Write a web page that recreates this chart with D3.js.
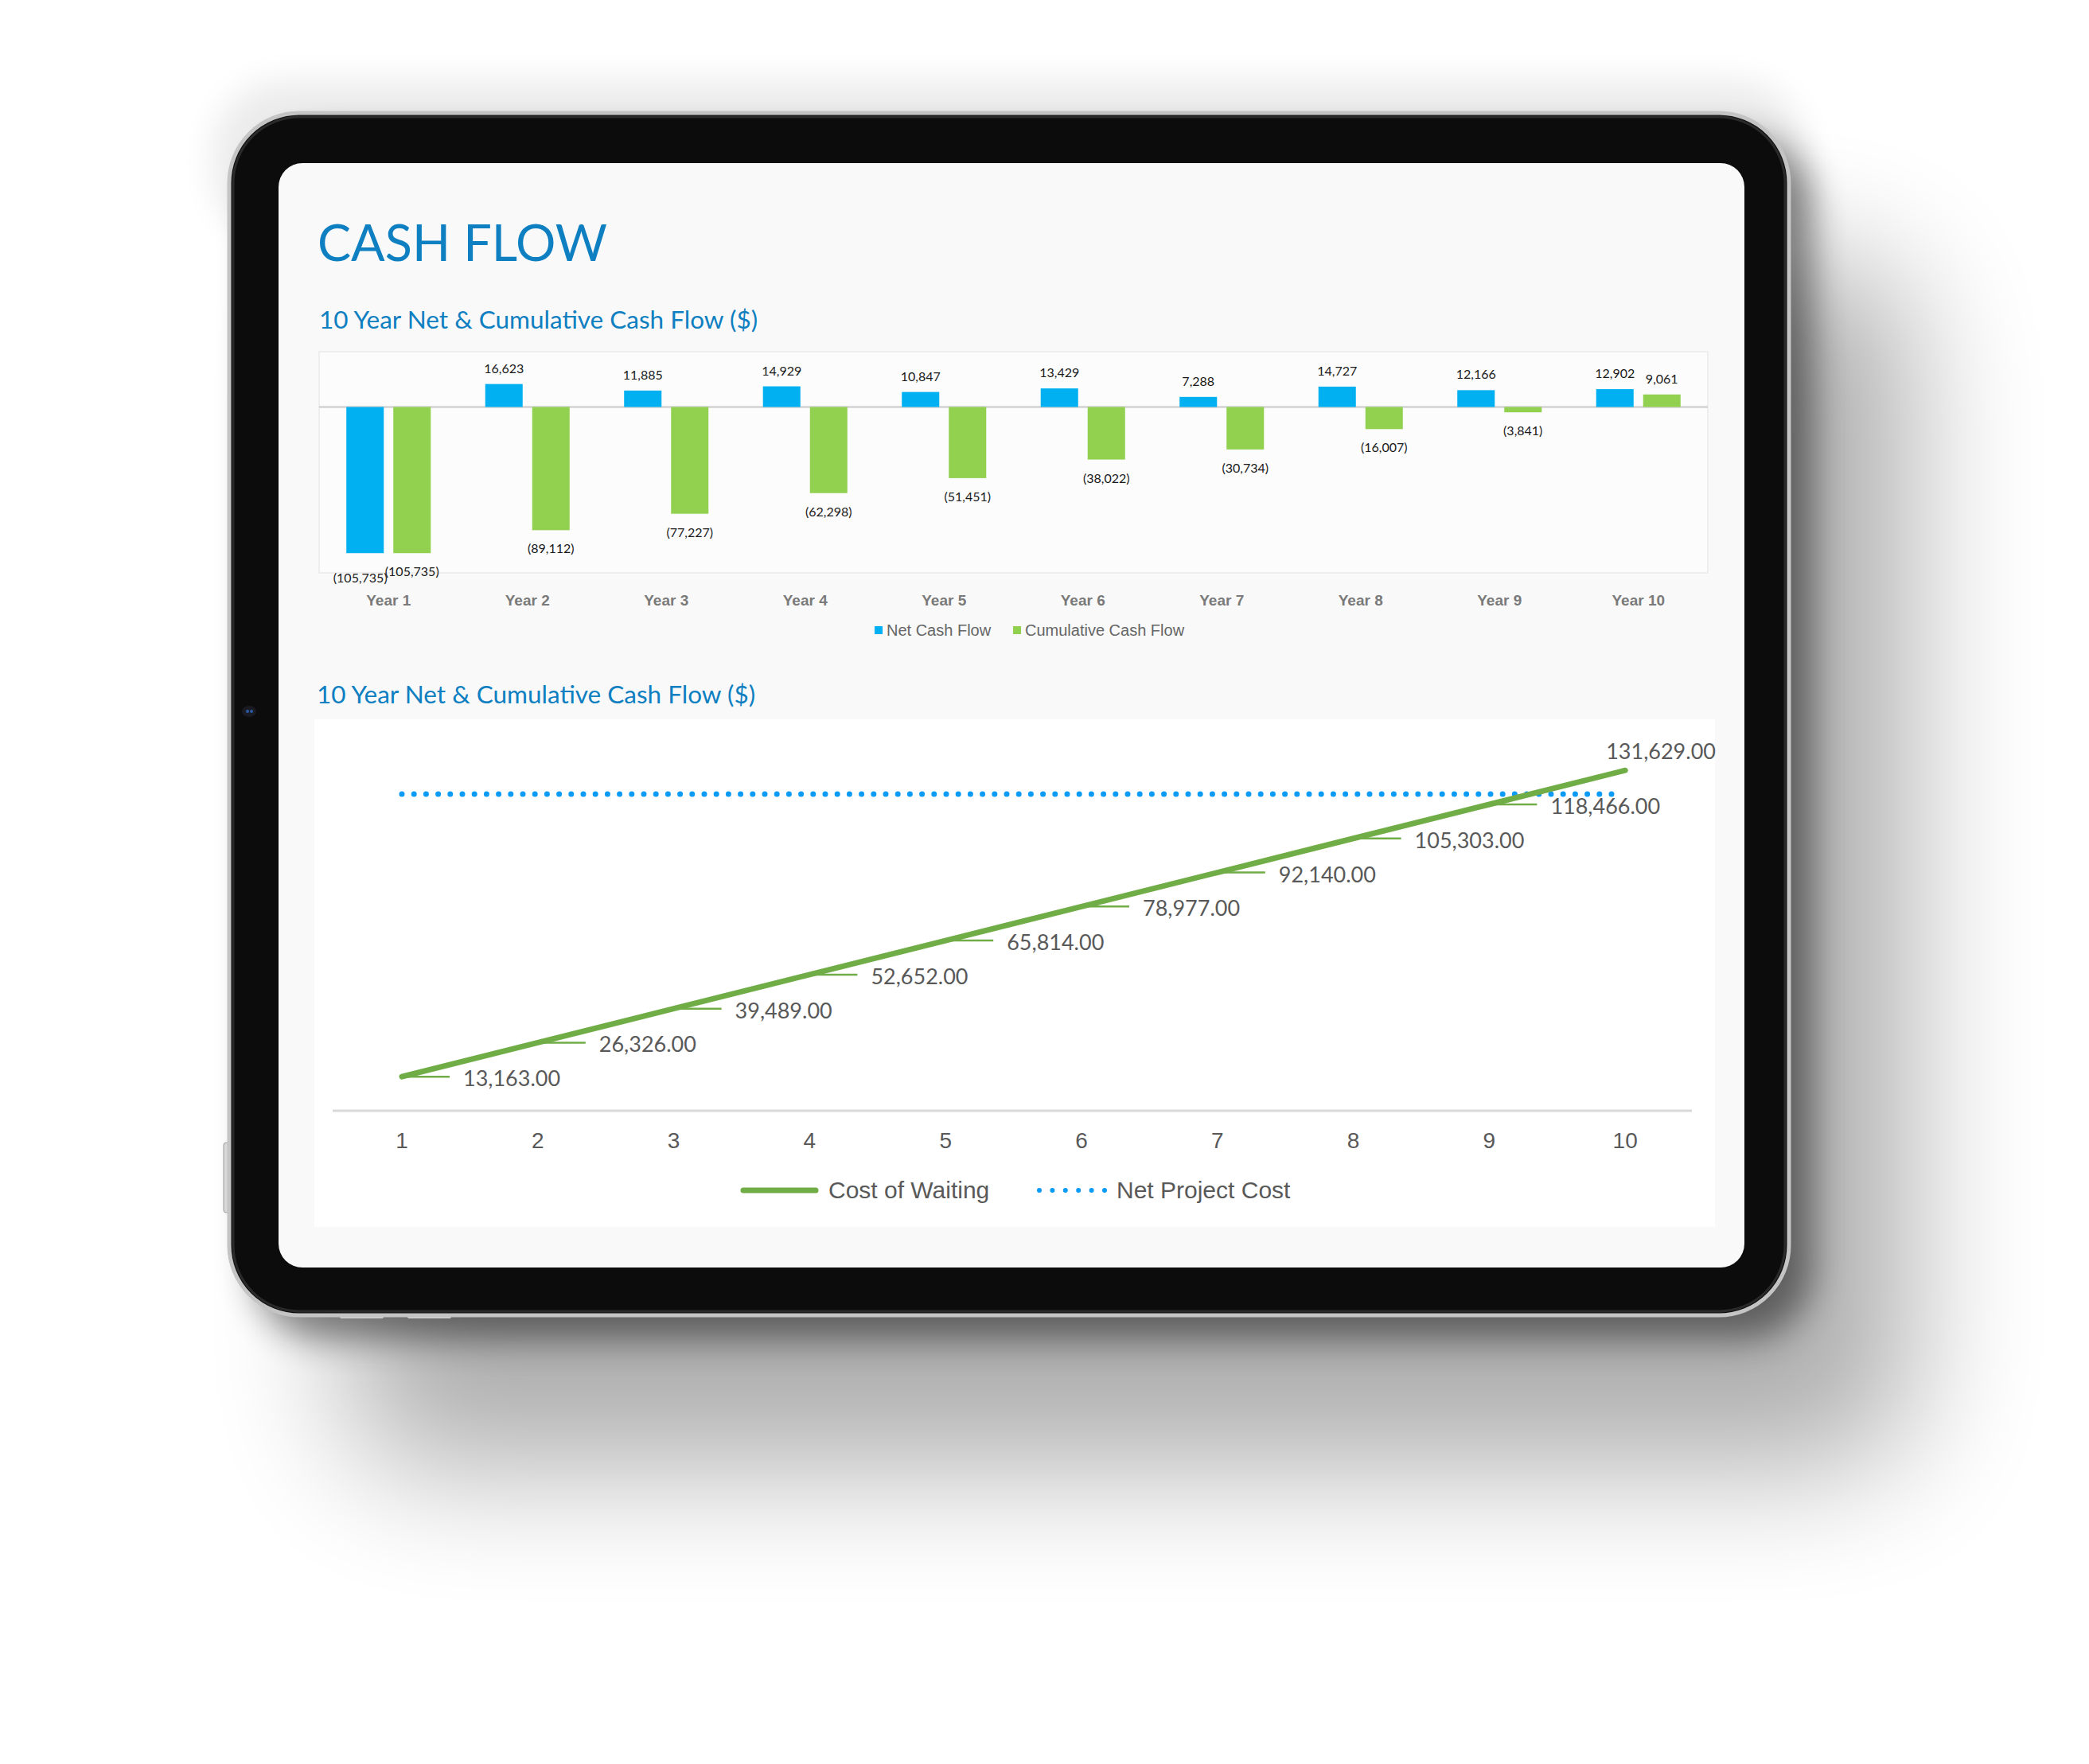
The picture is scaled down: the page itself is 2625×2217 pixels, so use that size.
<!DOCTYPE html>
<html>
<head>
<meta charset="utf-8">
<script src="https://cdn.jsdelivr.net/npm/d3@7"></script>
<style>
  html, body { margin: 0; padding: 0; background: #ffffff; }
  svg { display: block; }
</style>
</head>
<body>
<svg id="chart" width="2625" height="2217"></svg>
<script>
// ---------------- DATA ----------------
const years = ["Year 1", "Year 2", "Year 3", "Year 4", "Year 5", "Year 6", "Year 7", "Year 8", "Year 9", "Year 10"];
const netCashFlow = [-105735, 16623, 11885, 14929, 10847, 13429, 7288, 14727, 12166, 12902];
const cumulativeCashFlow = [-105735, -89112, -77227, -62298, -51451, -38022, -30734, -16007, -3841, 9061];
const barSeries = ["Net Cash Flow", "Cumulative Cash Flow"];

const periods = [1, 2, 3, 4, 5, 6, 7, 8, 9, 10];
const costOfWaiting = [13163, 26326, 39489, 52652, 65814, 78977, 92140, 105303, 118466, 131629];
const netProjectCost = 122500;
const lineSeries = ["Cost of Waiting", "Net Project Cost"];

const pageTitle = "CASH FLOW";
const chartTitle1 = "10 Year Net & Cumulative Cash Flow ($)";
const chartTitle2 = "10 Year Net & Cumulative Cash Flow ($)";

// ---------------- STYLE ----------------
const BLUE = "#00B0F0", GREEN = "#92D050", TITLE = "#0E7FC1";
const LINE_GREEN = "#70AD47", DOT_BLUE = "#0A9BF7";
const SANS = "'Liberation Sans', Arial, sans-serif";
const CAL = "Lato, 'Open Sans', sans-serif";

const svg = d3.select("#chart");
const defs = svg.append("defs");

// shadows
const f1 = defs.append("filter").attr("id", "farShadow").attr("x", "-30%").attr("y", "-30%").attr("width", "170%").attr("height", "170%");
f1.append("feGaussianBlur").attr("stdDeviation", 85);
const f2 = defs.append("filter").attr("id", "nearShadow").attr("x", "-20%").attr("y", "-20%").attr("width", "140%").attr("height", "140%");
f2.append("feGaussianBlur").attr("stdDeviation", 22);

const T = { x: 288, y: 142, w: 1960, h: 1511, r: 88 };
svg.append("rect").attr("x", T.x + 150).attr("y", T.y + 190).attr("width", T.w).attr("height", T.h)
  .attr("rx", T.r).attr("fill", "#000").attr("opacity", 0.32).attr("filter", "url(#farShadow)");
svg.append("rect").attr("x", T.x + 30).attr("y", T.y + 30).attr("width", T.w).attr("height", T.h)
  .attr("rx", T.r).attr("fill", "#000").attr("opacity", 0.45).attr("filter", "url(#nearShadow)");
svg.append("rect").attr("x", T.x - 20).attr("y", T.y - 40).attr("width", T.w + 40).attr("height", 200)
  .attr("rx", T.r).attr("fill", "#000").attr("opacity", 0.08).attr("filter", "url(#nearShadow)");

// side buttons
svg.append("rect").attr("x", T.x - 7).attr("y", 1436).attr("width", 9).attr("height", 88).attr("rx", 3).attr("fill", "#d8d8d8").attr("stroke", "#9a9a9a");
svg.append("rect").attr("x", 427).attr("y", T.y + T.h - 2).attr("width", 55).attr("height", 6).attr("rx", 2).attr("fill", "#d0d0d0");
svg.append("rect").attr("x", 512).attr("y", T.y + T.h - 2).attr("width", 55).attr("height", 6).attr("rx", 2).attr("fill", "#d0d0d0");

// body
svg.append("rect").attr("x", T.x).attr("y", T.y).attr("width", T.w).attr("height", T.h)
  .attr("rx", T.r).attr("fill", "#0c0c0c").attr("stroke", "#c4c4c4").attr("stroke-width", 5);
svg.append("rect").attr("x", T.x + 5).attr("y", T.y + 5).attr("width", T.w - 10).attr("height", T.h - 10)
  .attr("rx", T.r - 5).attr("fill", "none").attr("stroke", "#2a2a2a").attr("stroke-width", 3);
// camera
svg.append("ellipse").attr("cx", 313).attr("cy", 894).attr("rx", 9).attr("ry", 7).attr("fill", "#1a1a22");
svg.append("circle").attr("cx", 311).attr("cy", 894).attr("r", 2).attr("fill", "#2a5aa8");
svg.append("circle").attr("cx", 316).attr("cy", 894).attr("r", 2).attr("fill", "#2a5aa8");

// screen
svg.append("rect").attr("x", 350).attr("y", 205).attr("width", 1842).attr("height", 1388)
  .attr("rx", 30).attr("fill", "#f9f9f9");

// titles
svg.append("text").attr("x", 399).attr("y", 328).attr("font-family", CAL).attr("font-size", 63)
  .attr("fill", TITLE).text(pageTitle);
svg.append("text").attr("x", 401).attr("y", 413).attr("font-family", CAL).attr("font-size", 31.5)
  .attr("fill", TITLE).text(chartTitle1);
svg.append("text").attr("x", 398).attr("y", 884).attr("font-family", CAL).attr("font-size", 31.5)
  .attr("fill", TITLE).text(chartTitle2);

// ---------------- BAR CHART ----------------
const plot1 = { left: 401, right: 2146, top: 442, bottom: 720 };
svg.append("rect").attr("x", plot1.left).attr("y", plot1.top)
  .attr("width", plot1.right - plot1.left).attr("height", plot1.bottom - plot1.top)
  .attr("fill", "#fcfcfc").attr("stroke", "#eeeeee").attr("stroke-width", 2);

const x0 = d3.scaleBand().domain(years).range([plot1.left, plot1.right]);
const x1 = d3.scaleBand().domain(barSeries).range([0, x0.bandwidth()]).paddingInner(0.203).paddingOuter(0.58);
const y1 = d3.scaleLinear().domain([-120000, 40000]).range([plot1.bottom, plot1.top]);
const barColor = d3.scaleOrdinal().domain(barSeries).range([BLUE, GREEN]);

const barData = years.map((yr, i) => ({
  year: yr,
  values: [
    { key: barSeries[0], value: netCashFlow[i] },
    { key: barSeries[1], value: cumulativeCashFlow[i] }
  ]
}));

// zero line
svg.append("line").attr("x1", plot1.left).attr("x2", plot1.right)
  .attr("y1", y1(0)).attr("y2", y1(0)).attr("stroke", "#d9d9d9").attr("stroke-width", 3);

const groups = svg.append("g").selectAll("g").data(barData).join("g")
  .attr("transform", d => `translate(${x0(d.year)},0)`);

groups.selectAll("rect").data(d => d.values).join("rect")
  .attr("x", d => x1(d.key))
  .attr("width", x1.bandwidth())
  .attr("y", d => Math.min(y1(d.value), y1(0)))
  .attr("height", d => Math.abs(y1(d.value) - y1(0)))
  .attr("fill", d => barColor(d.key));

const fmtInt = d3.format(",");
groups.each(function() {
  const g = d3.select(this);
  const labels = g.selectAll("text.lbl").data(d => d.values).join("text")
    .attr("class", "lbl")
    .attr("x", d => x1(d.key) + x1.bandwidth() / 2)
    .attr("y", d => d.value >= 0 ? y1(d.value) - 14 : y1(d.value) + 29)
    .attr("text-anchor", "middle")
    .attr("font-family", CAL).attr("font-size", 16).attr("fill", "#1a1a1a")
    .text(d => d.value < 0 ? `(${fmtInt(-d.value)})` : fmtInt(d.value));
  // simple collision nudge between the two labels in a group
  const nodes = labels.nodes();
  if (nodes.length === 2) {
    const a = nodes[0].getBBox(), b = nodes[1].getBBox();
    if (a.x + a.width > b.x && Math.abs(a.y - b.y) < a.height) {
      const t = d3.select(nodes[0]);
      t.attr("x", +t.attr("x") - 6).attr("y", +t.attr("y") + 8);
    }
  }
});

// x axis labels
const xAxis1 = svg.append("g").attr("transform", `translate(0,${plot1.bottom})`)
  .call(d3.axisBottom(x0).tickSize(0).tickPadding(28));
xAxis1.select(".domain").remove();
xAxis1.selectAll("text").attr("font-family", SANS).attr("font-size", 19)
  .attr("font-weight", "bold").attr("fill", "#7a7a7a");

// legend
const leg1 = svg.append("g");
const leg1Items = [{ key: barSeries[0], x: 1099 }, { key: barSeries[1], x: 1273 }];
leg1Items.forEach(it => {
  leg1.append("rect").attr("x", it.x).attr("y", 787).attr("width", 10).attr("height", 10).attr("fill", barColor(it.key));
  leg1.append("text").attr("x", it.x + 15).attr("y", 799).attr("font-family", SANS).attr("font-size", 20)
    .attr("fill", "#666666").text(it.key);
});

// ---------------- LINE CHART ----------------
svg.append("rect").attr("x", 395).attr("y", 904).attr("width", 1760).attr("height", 638).attr("fill", "#ffffff");

const xb = d3.scaleBand().domain(periods).range([419.6, 2127.6]);
const xc = p => xb(p) + xb.bandwidth() / 2;
const y2 = d3.scaleLinear().domain([0, 140000]).range([1396, 941]);

// axis line
svg.append("line").attr("x1", 418).attr("x2", 2126).attr("y1", y2(0)).attr("y2", y2(0))
  .attr("stroke", "#d9d9d9").attr("stroke-width", 3);

const xAxis2 = svg.append("g").attr("transform", `translate(0,${y2(0)})`)
  .call(d3.axisBottom(xb).tickSize(0).tickPadding(27));
xAxis2.select(".domain").remove();
xAxis2.selectAll("text").attr("font-family", SANS).attr("font-size", 28).attr("fill", "#595959");

// net project cost dotted line
svg.append("line")
  .attr("x1", xc(periods[0])).attr("x2", xc(periods[periods.length - 1]) - 6)
  .attr("y1", y2(netProjectCost)).attr("y2", y2(netProjectCost))
  .attr("stroke", DOT_BLUE).attr("stroke-width", 7).attr("stroke-linecap", "round")
  .attr("stroke-dasharray", "0 15.2");

const pts = periods.map((p, i) => ({ p, v: costOfWaiting[i] }));

// leader lines + labels
const fmt2 = d3.format(",.2f");
const lbl = svg.append("g");
pts.forEach((d, i) => {
  const px = xc(d.p), py = y2(d.v);
  if (i < pts.length - 1) {
    lbl.append("line").attr("x1", px).attr("x2", px + 60).attr("y1", py).attr("y2", py)
      .attr("stroke", LINE_GREEN).attr("stroke-width", 2.5);
    lbl.append("text").attr("x", px + 77).attr("y", py + 12)
      .attr("font-family", CAL).attr("font-size", 27).attr("fill", "#595959").text(fmt2(d.v));
  } else {
    lbl.append("text").attr("x", px - 24).attr("y", py - 14)
      .attr("font-family", CAL).attr("font-size", 27).attr("fill", "#595959").text(fmt2(d.v));
  }
});

// cost of waiting line
svg.append("path").datum(pts)
  .attr("d", d3.line().x(d => xc(d.p)).y(d => y2(d.v)))
  .attr("fill", "none").attr("stroke", LINE_GREEN).attr("stroke-width", 7).attr("stroke-linecap", "round");

// legend
const leg2 = svg.append("g");
leg2.append("line").attr("x1", 934).attr("x2", 1025).attr("y1", 1496).attr("y2", 1496)
  .attr("stroke", LINE_GREEN).attr("stroke-width", 7).attr("stroke-linecap", "round");
leg2.append("text").attr("x", 1041).attr("y", 1506).attr("font-family", SANS).attr("font-size", 30)
  .attr("fill", "#595959").text(lineSeries[0]);
leg2.append("line").attr("x1", 1306).attr("x2", 1388).attr("y1", 1496).attr("y2", 1496)
  .attr("stroke", DOT_BLUE).attr("stroke-width", 6).attr("stroke-linecap", "round")
  .attr("stroke-dasharray", "0 16.4");
leg2.append("text").attr("x", 1403).attr("y", 1506).attr("font-family", SANS).attr("font-size", 30)
  .attr("fill", "#595959").text(lineSeries[1]);
</script>
</body>
</html>
